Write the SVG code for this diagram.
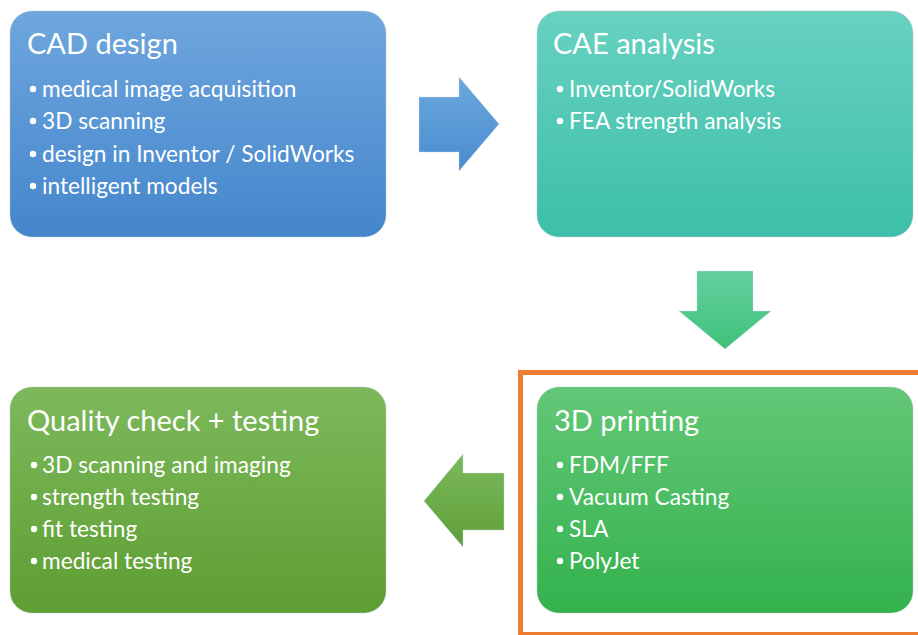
<svg xmlns="http://www.w3.org/2000/svg" width="918" height="635" viewBox="0 0 918 635">
  <defs>
    <linearGradient id="gBlue" x1="0" y1="0" x2="0" y2="1">
      <stop offset="0" stop-color="#6fa6dd"/>
      <stop offset="1" stop-color="#4486cc"/>
    </linearGradient>
    <linearGradient id="gTeal" x1="0" y1="0" x2="0" y2="1">
      <stop offset="0" stop-color="#68d1c0"/>
      <stop offset="1" stop-color="#3cbfa9"/>
    </linearGradient>
    <linearGradient id="gGreen" x1="0" y1="0" x2="0" y2="1">
      <stop offset="0" stop-color="#63c777"/>
      <stop offset="1" stop-color="#33b24d"/>
    </linearGradient>
    <linearGradient id="gLeaf" x1="0" y1="0" x2="0" y2="1">
      <stop offset="0" stop-color="#7db95c"/>
      <stop offset="1" stop-color="#5e9e32"/>
    </linearGradient>
    <linearGradient id="gArrowBlue" x1="0" y1="0" x2="0" y2="1">
      <stop offset="0" stop-color="#6ba8de"/>
      <stop offset="1" stop-color="#4a8bcf"/>
    </linearGradient>
    <linearGradient id="gArrowMint" x1="0" y1="0" x2="0" y2="1">
      <stop offset="0" stop-color="#63cf9e"/>
      <stop offset="1" stop-color="#3fc27b"/>
    </linearGradient>
    <linearGradient id="gArrowLeaf" x1="0" y1="0" x2="0" y2="1">
      <stop offset="0" stop-color="#7bb95c"/>
      <stop offset="1" stop-color="#5f9f38"/>
    </linearGradient>
  </defs>
  <style>
    .box { stroke: #b8c4c8; stroke-opacity: 0.45; stroke-width: 1; }
    .title { font-family: Lato, "Liberation Sans", sans-serif; font-size: 29px; fill: #ffffff; }
    .item { font-family: Lato, "Liberation Sans", sans-serif; font-size: 22.7px; fill: #ffffff; }
    .dot { fill: #ffffff; }
    .arrow { stroke: #c9d6dc; stroke-opacity: 0.4; stroke-width: 1; }
    .focus { fill: none; stroke: #ed7d31; stroke-width: 5; }
  </style>

  <rect class="focus" x="520.5" y="372.5" width="420" height="262"/>

  <g id="cad-design">
    <rect class="box" x="10" y="11" width="376" height="226" rx="22" fill="url(#gBlue)"/>
    <text class="title" x="27" y="54">CAD design</text>
    <circle class="dot" cx="33" cy="89" r="3.2"/>
    <text class="item" x="42" y="97">medical image acquisition</text>
    <circle class="dot" cx="33" cy="121" r="3.2"/>
    <text class="item" x="42" y="129">3D scanning</text>
    <circle class="dot" cx="33" cy="154" r="3.2"/>
    <text class="item" x="42" y="162">design in Inventor / SolidWorks</text>
    <circle class="dot" cx="33" cy="186" r="3.2"/>
    <text class="item" x="42" y="194">intelligent models</text>
  </g>

  <g id="cae-analysis">
    <rect class="box" x="537" y="11" width="376" height="226" rx="22" fill="url(#gTeal)"/>
    <text class="title" x="553" y="54">CAE analysis</text>
    <circle class="dot" cx="560" cy="89" r="3.2"/>
    <text class="item" x="569" y="97">Inventor/SolidWorks</text>
    <circle class="dot" cx="560" cy="121" r="3.2"/>
    <text class="item" x="569" y="129">FEA strength analysis</text>
  </g>

  <g id="printing">
    <rect class="box" x="537" y="387" width="376" height="226" rx="22" fill="url(#gGreen)"/>
    <text class="title" x="554" y="431">3D printing</text>
    <circle class="dot" cx="560" cy="465" r="3.2"/>
    <text class="item" x="569" y="473">FDM/FFF</text>
    <circle class="dot" cx="560" cy="497" r="3.2"/>
    <text class="item" x="569" y="505">Vacuum Casting</text>
    <circle class="dot" cx="560" cy="529" r="3.2"/>
    <text class="item" x="569" y="537">SLA</text>
    <circle class="dot" cx="560" cy="561" r="3.2"/>
    <text class="item" x="569" y="569">PolyJet</text>
  </g>

  <g id="quality">
    <rect class="box" x="10" y="387" width="376" height="226" rx="22" fill="url(#gLeaf)"/>
    <text class="title" x="27" y="431">Quality check + testing</text>
    <circle class="dot" cx="34" cy="465" r="3.2"/>
    <text class="item" x="42" y="473">3D scanning and imaging</text>
    <circle class="dot" cx="34" cy="497" r="3.2"/>
    <text class="item" x="42" y="505">strength testing</text>
    <circle class="dot" cx="34" cy="529" r="3.2"/>
    <text class="item" x="42" y="537">fit testing</text>
    <circle class="dot" cx="34" cy="561" r="3.2"/>
    <text class="item" x="42" y="569">medical testing</text>
  </g>

  <g id="connectors">
    <polygon class="arrow" fill="url(#gArrowBlue)" points="419,97 459,97 459,77 499,124 459,171 459,152 419,152"/>
    <polygon class="arrow" fill="url(#gArrowMint)" points="697,271 753,271 753,311 771,311 725,349 679,311 697,311"/>
    <polygon class="arrow" fill="url(#gArrowLeaf)" points="504,473 463,473 463,454 424,501 463,547 463,530 504,530"/>
  </g>
</svg>
